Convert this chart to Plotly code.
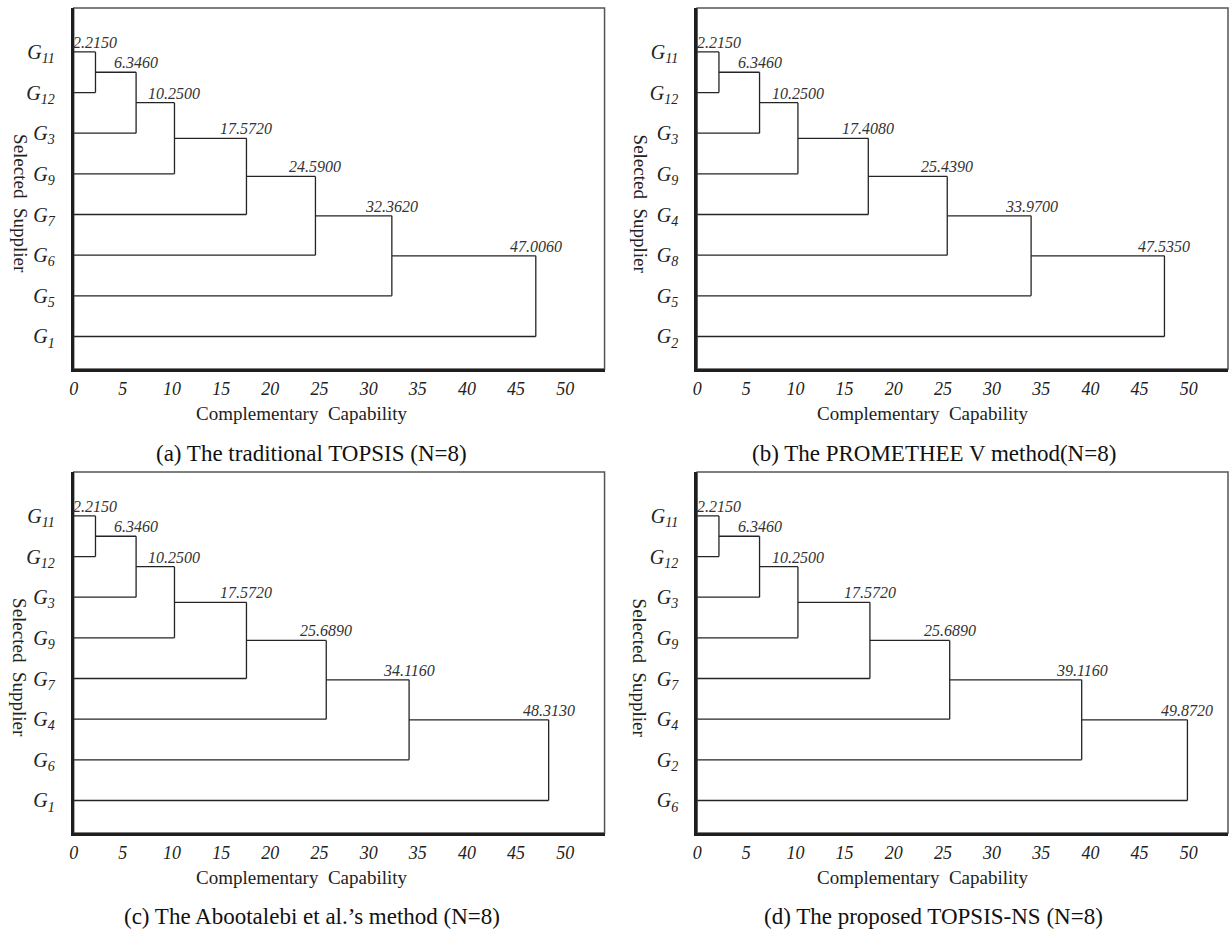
import plotly.graph_objects as go

W, H = 1230, 934

# ---------------- data ----------------
x_tick_vals = [0, 5, 10, 15, 20, 25, 30, 35, 40, 45, 50]
x_tick_text = ["0", "5", "10", "15", "20", "25", "30", "35", "40", "45", "50"]

leaves_a = ["11", "12", "3", "9", "7", "6", "5", "1"]
heights_a = [2.215, 6.346, 10.25, 17.572, 24.59, 32.362, 47.006]

leaves_b = ["11", "12", "3", "9", "4", "8", "5", "2"]
heights_b = [2.215, 6.346, 10.25, 17.408, 25.439, 33.97, 47.535]

leaves_c = ["11", "12", "3", "9", "7", "4", "6", "1"]
heights_c = [2.215, 6.346, 10.25, 17.572, 25.689, 34.116, 48.313]

leaves_d = ["11", "12", "3", "9", "7", "4", "2", "6"]
heights_d = [2.215, 6.346, 10.25, 17.572, 25.689, 39.116, 49.872]

captions = [
    "(a) The traditional TOPSIS (N=8)",
    "(b) The PROMETHEE V method(N=8)",
    "(c) The Abootalebi et al.\u2019s method (N=8)",
    "(d) The proposed TOPSIS-NS (N=8)",
]
x_title = "Complementary&nbsp; Capability"
y_title = "Selected&nbsp; Supplier"

panels = [(leaves_a, heights_a), (leaves_b, heights_b),
          (leaves_c, heights_c), (leaves_d, heights_d)]

# ---------------- layout geometry (pixels) ----------------
boxes = [(69, 602, 8, 369), (695, 1228, 8, 369),
         (69, 602, 472, 833), (695, 1228, 472, 833)]
xtitle_pos = [(298, 413), (922, 413), (298, 877), (922, 877)]
ytitle_pos = [(15, 204), (638, 204), (15, 668), (638, 668)]
caption_pos = [(308, 453), (933, 453), (308, 916), (932, 916)]

FONT = "Liberation Serif"
LINE = "#242424"

def fx(p):
    return p / W

def fy(p):
    return 1 - p / H

fig = go.Figure()
annotations = []
shapes = []

for i, ((leaves, heights), box) in enumerate(zip(panels, boxes)):
    suf = "" if i == 0 else str(i + 1)
    xs, ys = [], []
    c = 0.0
    prev = 0.0
    for k, h in enumerate(heights):
        leaf = k + 1
        xs += [prev, h, None]
        ys += [c, c, None]
        xs += [0, h, None]
        ys += [leaf, leaf, None]
        xs += [h, h, None]
        ys += [c, leaf, None]
        annotations.append(dict(
            x=h, y=c, xref="x" + suf, yref="y" + suf,
            text=f"{h:.4f}", showarrow=False,
            xanchor="center", yanchor="bottom", yshift=-1,
            font=dict(family=FONT, size=16, style="italic", color="#333"),
        ))
        c = (c + leaf) / 2
        prev = h
    fig.add_trace(go.Scatter(
        x=xs, y=ys, mode="lines",
        line=dict(color=LINE, width=1.3),
        xaxis="x" + suf, yaxis="y" + suf,
        showlegend=False, hoverinfo="skip",
    ))

    x0, x1, y0, y1 = box
    fig.layout["xaxis" + suf] = dict(
        domain=[fx(x0), fx(x1)], anchor="y" + suf,
        range=[0, 54], tickmode="array",
        tickvals=x_tick_vals, ticktext=x_tick_text,
        showgrid=False, zeroline=False,
        showline=True, linewidth=3, linecolor="#1e1e1e",
        ticks="outside", ticklen=1, tickcolor="rgba(0,0,0,0)",
        tickfont=dict(family=FONT, size=18, style="italic", color="#222"),
    )
    fig.layout["yaxis" + suf] = dict(
        domain=[fy(y1), fy(y0)], anchor="x" + suf,
        range=[7.8, -1.08], tickmode="array",
        tickvals=list(range(len(leaves))),
        ticktext=[f"G<sub>{s}</sub>" for s in leaves],
        showgrid=False, zeroline=False,
        showline=True, linewidth=3, linecolor="#1e1e1e",
        ticks="outside", ticklen=12, tickcolor="rgba(0,0,0,0)",
        tickfont=dict(family=FONT, size=20, style="italic", color="#222"),
    )
    shapes.append(dict(
        type="rect", xref="x" + suf + " domain", yref="y" + suf + " domain",
        x0=0, x1=1, y0=0, y1=1, line=dict(color="#555", width=1.5),
        layer="below",
    ))

    tx, ty = xtitle_pos[i]
    annotations.append(dict(
        x=fx(tx), y=fy(ty), xref="paper", yref="paper", text=x_title,
        showarrow=False, xanchor="center", yanchor="middle",
        font=dict(family=FONT, size=19, color="#222"),
    ))
    tx, ty = ytitle_pos[i]
    annotations.append(dict(
        x=fx(tx), y=fy(ty), xref="paper", yref="paper", text=y_title,
        showarrow=False, xanchor="center", yanchor="middle", textangle=90,
        font=dict(family=FONT, size=19, color="#222"),
    ))
    tx, ty = caption_pos[i]
    annotations.append(dict(
        x=fx(tx), y=fy(ty), xref="paper", yref="paper", text=captions[i],
        showarrow=False, xanchor="center", yanchor="middle",
        font=dict(family=FONT, size=23, color="#111"),
    ))

fig.update_layout(
    width=W, height=H,
    margin=dict(l=0, r=0, t=0, b=0),
    paper_bgcolor="white", plot_bgcolor="white",
    annotations=annotations, shapes=shapes,
    showlegend=False,
)

fig.write_html(
    "out.html",
    config={"displayModeBar": False},
    post_script="document.body.style.margin='0';document.body.style.padding='0';",
)
